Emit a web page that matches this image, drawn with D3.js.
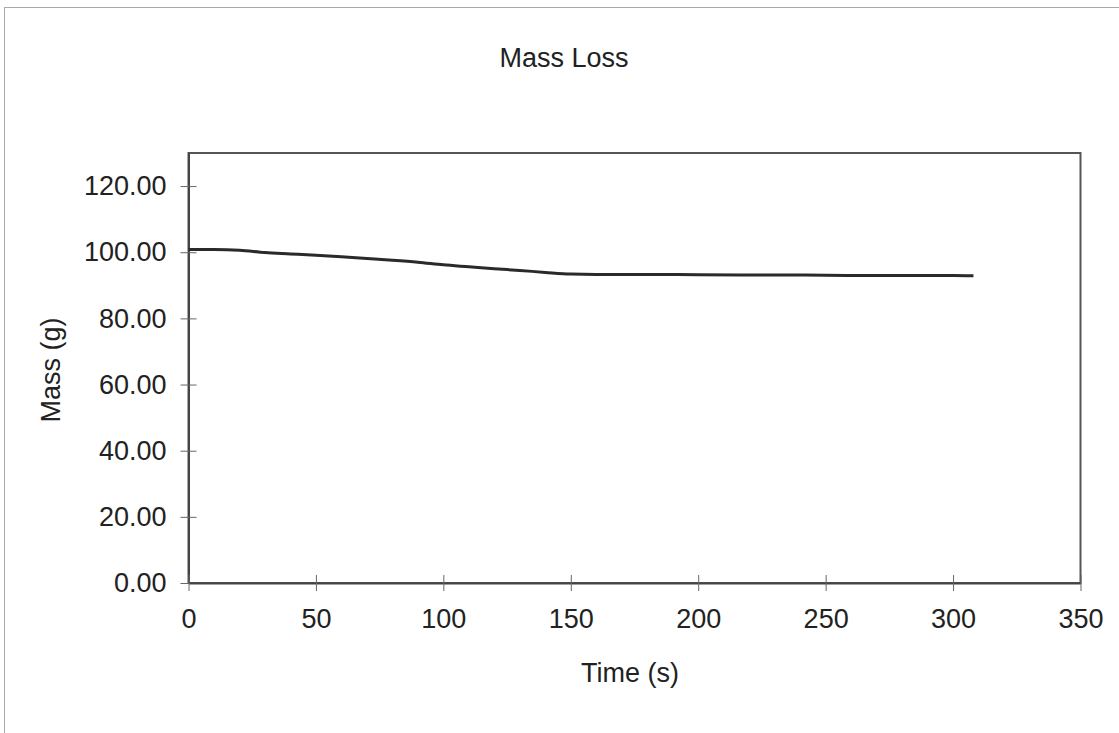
<!DOCTYPE html>
<html>
<head>
<meta charset="utf-8">
<script src="https://cdn.jsdelivr.net/npm/d3@7"></script>
<style>
  body { margin: 0; background: #fff; }
  svg { display: block; font-family: "Liberation Sans", Arial, sans-serif; }
</style>
</head>
<body>
<svg id="chart" width="1119" height="733"></svg>
<script>
// values
var time_s = [0, 10, 20, 30, 40, 50, 60, 70, 80, 90, 100, 110, 120, 130, 140, 150,
              160, 180, 200, 220, 240, 260, 280, 300, 308];
var mass_g = [100.8, 100.8, 100.6, 99.9, 99.5, 99.1, 98.6, 98.1, 97.6, 97.0, 96.2, 95.6,
              95.0, 94.5, 93.9, 93.4, 93.3, 93.3, 93.2, 93.1, 93.1, 93.0, 93.0, 93.0, 92.9];
var x_ticks = [0, 50, 100, 150, 200, 250, 300, 350];
var y_ticks = [0, 20, 40, 60, 80, 100, 120];

var svg = d3.select("#chart");
var plot_left = 188.5, plot_right = 1080.5, plot_top = 153, plot_bottom = 583;

var x = d3.scaleLinear().domain([0, 350]).range([plot_left, plot_right]);
var y = d3.scaleLinear().domain([0, 130]).range([plot_bottom, plot_top]);

// outer frame
svg.append("rect")
  .attr("x", 4.5).attr("y", 7.5).attr("width", 1130).attr("height", 740)
  .attr("fill", "none").attr("stroke", "#aaa").attr("stroke-width", 1);

// plot frame
svg.append("rect")
  .attr("x", plot_left).attr("y", plot_top)
  .attr("width", plot_right - plot_left).attr("height", plot_bottom - plot_top)
  .attr("fill", "none").attr("stroke", "#555").attr("stroke-width", 2);

// y axis
var yAxis = svg.append("g")
  .attr("transform", "translate(" + plot_left + ",0)")
  .call(d3.axisLeft(y).tickValues(y_ticks).tickSize(8).tickSizeOuter(0).tickPadding(14)
        .tickFormat(d3.format(".2f")));
yAxis.select(".domain").attr("stroke", "#444").attr("stroke-width", 2);
yAxis.selectAll(".tick line").attr("x2", 8).attr("x1", -8).attr("stroke", "#666");
yAxis.selectAll(".tick text").attr("font-size", 27).attr("fill", "#222")
  .attr("font-family", "Liberation Sans, Arial, sans-serif");

// x axis
var xAxis = svg.append("g")
  .attr("transform", "translate(0," + plot_bottom + ")")
  .call(d3.axisBottom(x).tickValues(x_ticks).tickSize(8).tickSizeOuter(0).tickPadding(18));
xAxis.select(".domain").attr("stroke", "#444").attr("stroke-width", 2);
xAxis.selectAll(".tick line").attr("y1", -8).attr("y2", 8).attr("stroke", "#666");
xAxis.selectAll(".tick text").attr("font-size", 27).attr("fill", "#222")
  .attr("font-family", "Liberation Sans, Arial, sans-serif");

// the series
var line = d3.line()
  .x(function(d, i) { return x(time_s[i]); })
  .y(function(d) { return y(d); })
  .curve(d3.curveMonotoneX);

svg.append("path")
  .datum(mass_g)
  .attr("d", line)
  .attr("fill", "none")
  .attr("stroke", "#2a2a2a")
  .attr("stroke-width", 3);

// titles
svg.append("text")
  .attr("x", 564).attr("y", 67)
  .attr("text-anchor", "middle").attr("font-size", 27).attr("fill", "#222")
  .text("Mass Loss");

svg.append("text")
  .attr("x", 630).attr("y", 682)
  .attr("text-anchor", "middle").attr("font-size", 27).attr("fill", "#222")
  .text("Time (s)");

svg.append("text")
  .attr("transform", "translate(60,370) rotate(-90)")
  .attr("text-anchor", "middle").attr("font-size", 27).attr("fill", "#222")
  .text("Mass (g)");
</script>
</body>
</html>
